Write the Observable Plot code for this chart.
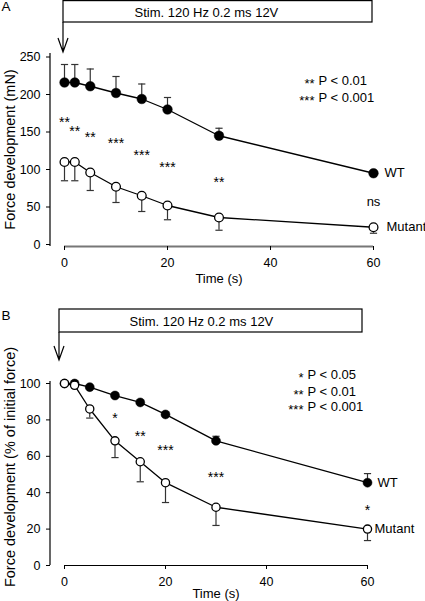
<!DOCTYPE html>
<html><head><meta charset="utf-8">
<script src="https://cdn.jsdelivr.net/npm/d3@7"></script>
<script src="https://cdn.jsdelivr.net/npm/@observablehq/plot@0.6"></script>
<style>
body{margin:0;background:#fff}
#chart{position:relative;width:425px;height:601px;font-family:"Liberation Sans",Arial,sans-serif}
#chart svg{display:block}
</style></head><body><div id="chart"></div>
<script>
// ---- data ----
const times = [0, 2, 5, 10, 15, 20, 30, 60];

// Panel A: force (mN)
const wtForce = [216, 216, 211, 202, 194, 180, 145, 95];
const wtForceErrTop = [240, 240, 234, 224, 214, 196, 155, 98];
const mutantForce = [110, 110, 96, 77, 65, 52, 36, 23];
const mutantForceErrBottom = [85, 85, 72, 56, 44, 33, 19, 15];
const sigForce = ["**", "**", "**", "***", "***", "***", "**", "ns"];
const sigForceY = [168, 156, 147, 140, 124, 108, 88, 57];
const legendForce = [["**", "P < 0.01"], ["***", "P < 0.001"]];

// Panel B: % of initial force
const wtPct = [100, 100, 98, 93.4, 89.6, 83, 68.5, 45.5];
const wtPctErrTop = [100, 100, 98, 93.4, 89.6, 83, 71, 50.5];
const mutantPct = [100, 99, 86, 68.5, 57, 45.5, 32, 20];
const mutantPctErrBottom = [100, 99, 81, 59.3, 46, 34.6, 22, 13.7];
const sigPctTimes = [10, 15, 20, 30, 60];
const sigPct = ["*", "**", "***", "***", "*"];
const sigPctY = [83, 73, 65, 50.5, 32];
const legendPct = [["*", "P < 0.05"], ["**", "P < 0.01"], ["***", "P < 0.001"]];

const forceTicks = [0, 50, 100, 150, 200, 250];
const pctTicks = [0, 20, 40, 60, 80, 100];
const timeTicks = [0, 20, 40, 60];
const stimLabel = "Stim. 120 Hz 0.2 ms 12V";
const stimWindow = [0, 60];
const seriesNames = ["WT", "Mutant"];
const xLabel = "Time (s)";

// ---- helpers ----
const FONT = '"Liberation Sans", Arial, sans-serif';
const capSymbol = {draw(ctx, size) { const r = Math.sqrt(size / Math.PI); ctx.moveTo(-r, 0); ctx.lineTo(r, 0); }};

function rows(mean, err) { return times.map((t, i) => ({t, mean: mean[i], err: err[i]})); }

function panel(p) {
  const wt = rows(p.wt, p.wtErr), mu = rows(p.mu, p.muErr);
  const sig = p.sigTimes.map((t, i) => ({t, label: p.sig[i], y: p.sigY[i]}));
  const stars = sig.filter(d => d.label.includes("*")), other = sig.filter(d => !d.label.includes("*"));
  const mid = (timeTicks[0] + timeTicks[timeTicks.length - 1]) / 2;

  const deco = (index, scales, values, dim) => {
    const g = d3.create("svg:g").attr("fill", "none").attr("stroke", "#000");
    const x0 = scales.x(stimWindow[0]) + p.boxShift, x1 = scales.x(stimWindow[1]) + p.boxShift;
    g.append("rect").attr("x", x0).attr("y", p.boxTop).attr("width", x1 - x0)
      .attr("height", p.boxBottom - p.boxTop).attr("stroke-width", 1.2);
    g.append("path").attr("stroke-width", 1.2)
      .attr("d", `M${x0},${p.boxBottom}V${p.arrowTip}M${x0 - 5},${p.arrowTip - 14}L${x0},${p.arrowTip}L${x0 + 5},${p.arrowTip - 14}`);
    // y-axis line
    g.append("line").attr("stroke-width", 1.2)
      .attr("x1", dim.marginLeft).attr("x2", dim.marginLeft)
      .attr("y1", dim.marginTop).attr("y2", dim.height - dim.marginBottom);
    // rotated y-axis label
    const cy = (dim.marginTop + dim.height - dim.marginBottom) / 2 + p.yLabelDy;
    g.append("text").attr("stroke", "none").attr("fill", "#000").attr("font-size", 14.5)
      .attr("text-anchor", "middle").attr("dy", "0.32em")
      .attr("transform", `translate(10,${cy}) rotate(-90)`)
      .text(p.yLabel);
    return g.node();
  };

  const marks = [
    deco,
    Plot.text([p.letter], {frameAnchor: "top-left", textAnchor: "start", dx: -49, dy: p.letterDy, fontSize: 13.5, lineAnchor: "middle"}),
    Plot.text([stimLabel], {frameAnchor: "top-left", textAnchor: "start", dx: p.stimX - 50, dy: p.stimY - p.marginTop, fontSize: 13, lineAnchor: "middle"}),
    Plot.axisY({ticks: p.yTicks, tickSize: 4, tickPadding: 6, label: null, fontSize: 12.5}),
    Plot.ruleY([0], {x1: stimWindow[0], x2: stimWindow[1], dy: p.xAxisDy, stroke: p.xAxisColor, strokeWidth: p.xAxisWidth}),
    Plot.axisX({ticks: timeTicks, tickSize: 4, tickPadding: 8, label: null, fontSize: 12.5}),
    Plot.text([xLabel], {x: () => mid, frameAnchor: "bottom", dy: p.xLabelDy, fontSize: 13, lineAnchor: "middle"}),
    // error bars
    Plot.ruleX(wt.filter(d => d.err !== d.mean), {x: "t", y1: "mean", y2: "err", stroke: "#333", strokeWidth: 1.2}),
    Plot.dot(wt.filter(d => d.err !== d.mean), {x: "t", y: "err", symbol: capSymbol, r: 3.6, stroke: "#333", strokeWidth: 1.2}),
    Plot.ruleX(mu.filter(d => d.err !== d.mean), {x: "t", y1: "mean", y2: "err", stroke: "#333", strokeWidth: 1.2}),
    Plot.dot(mu.filter(d => d.err !== d.mean), {x: "t", y: "err", symbol: capSymbol, r: 3.6, stroke: "#333", strokeWidth: 1.2}),
    // lines and dots
    Plot.line(wt, {x: "t", y: "mean", stroke: "#000", strokeWidth: 1.3}),
    Plot.line(mu, {x: "t", y: "mean", stroke: "#000", strokeWidth: 1.3}),
    Plot.dot(wt, {x: "t", y: "mean", r: p.r, fill: "#000", stroke: "#000", strokeWidth: 0.5}),
    Plot.dot(mu, {x: "t", y: "mean", r: p.r - 0.4, fill: "#fff", stroke: "#000", strokeWidth: 1.3}),
    // significance marks
    Plot.text(stars, {x: "t", y: "y", text: "label", fontSize: 14, dy: 3.6, lineAnchor: "middle"}),
    Plot.text(other, {x: "t", y: "y", text: "label", fontSize: 13, lineAnchor: "middle"}),
    // series labels
    Plot.text([wt[wt.length - 1]], {x: "t", y: "mean", text: () => seriesNames[0], textAnchor: "start", dx: p.wtDx, fontSize: 13, lineAnchor: "middle"}),
    Plot.text([mu[mu.length - 1]], {x: "t", y: "mean", text: () => seriesNames[1], textAnchor: "start", dx: p.muDx, fontSize: 13, lineAnchor: "middle"})
  ];
  p.legend.forEach(([s, txt], i) => {
    marks.push(Plot.text([s], {frameAnchor: "top-left", textAnchor: "end", dx: p.legendX - 4, dy: p.legendY[i] + 3, fontSize: 13, lineAnchor: "middle"}));
    marks.push(Plot.text([txt], {frameAnchor: "top-left", textAnchor: "start", dx: p.legendX, dy: p.legendY[i], fontSize: 13, lineAnchor: "middle"}));
  });

  return Plot.plot({
    width: 425,
    height: p.height,
    marginLeft: 50,
    marginRight: 52,
    marginTop: p.marginTop,
    marginBottom: p.marginBottom,
    style: {fontFamily: FONT, fontSize: "12.5px", color: "#000", background: "#fff", overflow: "visible"},
    x: {domain: [0, 60], range: p.xRange},
    y: {domain: p.yDomain, range: p.yRange},
    marks
  });
}

const chart = document.getElementById("chart");
chart.append(panel({
  letter: "A", letterDy: -46.5,
  height: 298, marginTop: 53, marginBottom: 52,
  xRange: [64, 373], yDomain: [0, 250], yRange: [244, 56.5], yTicks: forceTicks,
  wt: wtForce, wtErr: wtForceErrTop, mu: mutantForce, muErr: mutantForceErrBottom,
  sigTimes: times, sig: sigForce, sigY: sigForceY,
  legend: legendForce, legendX: 268, legendY: [27.5, 44],
  boxTop: 0.6, boxBottom: 22, arrowTip: 52, boxShift: -1, stimX: 134, stimY: 12,
  xAxisDy: 2, xAxisColor: "#777", xAxisWidth: 2,
  yLabel: "Force development (mN)", yLabelDy: 0, xLabelDy: 32,
  r: 4.8, wtDx: 11, muDx: 13
}));
chart.append(panel({
  letter: "B", letterDy: -66,
  height: 303, marginTop: 83, marginBottom: 36,
  xRange: [64, 367], yDomain: [0, 100], yRange: [267, 85], yTicks: pctTicks,
  wt: wtPct, wtErr: wtPctErrTop, mu: mutantPct, muErr: mutantPctErrBottom,
  sigTimes: sigPctTimes, sig: sigPct, sigY: sigPctY,
  legend: legendPct, legendX: 257, legendY: [-6.5, 10.5, 25.5],
  boxTop: 11, boxBottom: 34, arrowTip: 62, boxShift: -5, stimX: 129, stimY: 23,
  xAxisDy: 0, xAxisColor: "#000", xAxisWidth: 1.2,
  yLabel: "Force development (% of initial force)", yLabelDy: -6, xLabelDy: 28,
  r: 4.5, wtDx: 10, muDx: 7
}));
</script>
</body></html>
